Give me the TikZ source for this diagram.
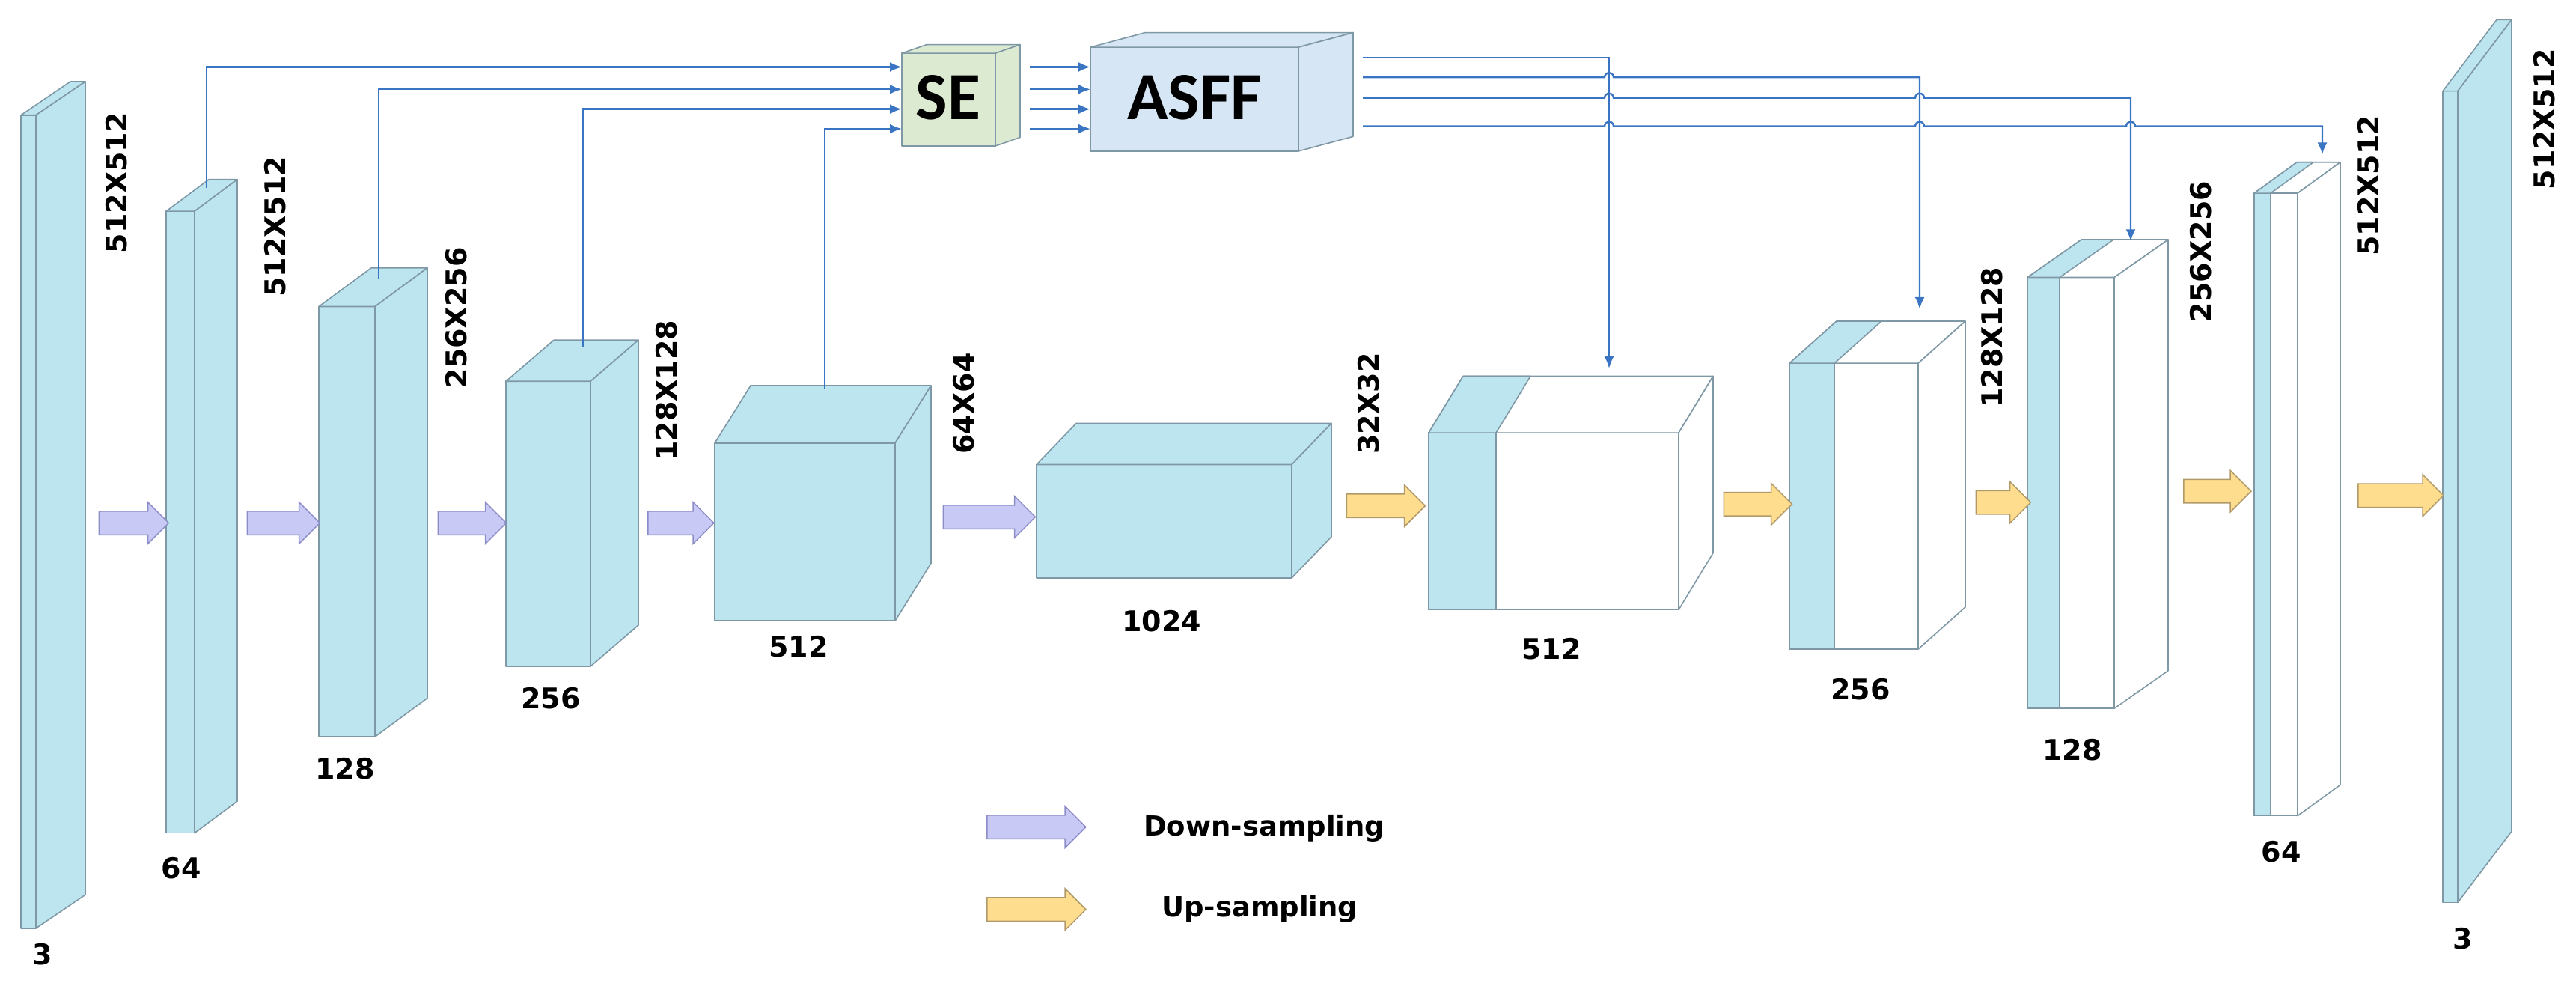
\documentclass[tikz,border=0pt]{standalone}
\usepackage{fontspec}
\setmainfont{DejaVu Sans}
\newfontfamily\calib{Carlito}
\usetikzlibrary{shapes.arrows,arrows.meta}
\definecolor{cblue}{HTML}{BDE5EF}
\definecolor{cedge}{HTML}{7F98A6}
\definecolor{segreen}{HTML}{DCEAD2}
\definecolor{asffb}{HTML}{D6E6F4}
\definecolor{conn}{HTML}{3A75C4}
\definecolor{downf}{HTML}{C9C9F5}
\definecolor{downd}{HTML}{8C8CC8}
\definecolor{upf}{HTML}{FFDD8E}
\definecolor{upd}{HTML}{B09A6A}
\tikzset{
  face/.style={draw=cedge,line width=1.6pt,line join=round},
  lbl/.style={font=\bfseries\fontsize{38}{38}\selectfont,inner sep=0pt},
  dim/.style={lbl,rotate=90},
  conn/.style={draw=conn,line width=2.4pt},
  cta/.style={conn,-{Latex[length=16pt,width=13pt]}},
  barrow/.style={single arrow,inner xsep=0pt,inner ysep=15pt,single arrow head extend=12pt,line width=1.5pt},
  down/.style={barrow,fill=downf,draw=downd},
  up/.style={barrow,fill=upf,draw=upd},
}
% name, x1, y1, x2, y2, dx, dy, colour
\newcommand\mycube[8]{%
  \pgfmathsetmacro\cw{#4-#2}\pgfmathsetmacro\ch{(#5-#3)*1.147}%
  \node[face,fill=#8,minimum width=\cw pt,minimum height=\ch pt,inner sep=0pt,outer sep=0pt,anchor=north west] (#1) at (#2,#3) {};
  \draw[face,fill=#8] (#2,#3) -- ({#2+#6},{#3+#7}) -- ({#4+#6},{#3+#7}) -- (#4,#3) -- cycle;
  \draw[face,fill=#8] (#4,#3) -- ({#4+#6},{#3+#7}) -- ({#4+#6},{#5+#7}) -- (#4,#5) -- cycle;
}
% split cube: #8 = x where blue part ends
\newcommand\mysplit[8]{%
  \mycube{#1}{#2}{#3}{#4}{#5}{#6}{#7}{white}
  \draw[face,fill=cblue] (#2,#3) rectangle (#8,#5);
  \draw[face,fill=cblue] (#2,#3) -- ({#2+#6},{#3+#7}) -- ({#8+#6},{#3+#7}) -- (#8,#3) -- cycle;
}
\begin{document}
\begin{tikzpicture}[x=1pt,y=-1.147pt]
\useasboundingbox (0,0) rectangle (3442,1151);
% encoder
\mycube{b1}{28}{134}{48}{1081}{66}{-39}{cblue}
\mycube{b2}{222}{246}{260}{970}{57}{-37}{cblue}
\mycube{b3}{426}{357}{501}{858}{70}{-45}{cblue}
\mycube{b4}{676}{444}{789}{776}{64}{-48}{cblue}
\mycube{b5}{955}{516}{1196}{723}{48}{-67}{cblue}
\mycube{b6}{1385}{541}{1726}{673}{53}{-48}{cblue}
% decoder
\mysplit{b7}{1909}{504}{2243}{710}{46}{-66}{1999}
\mysplit{b8}{2391}{423}{2563}{756}{63}{-49}{2451}
\mysplit{b9}{2709}{323}{2825}{825}{72}{-44}{2752}
\mysplit{b10}{3012}{225}{3070}{950}{57}{-36}{3034}
\draw[face] (3034,225) rectangle (3070,950);
\mycube{b11}{3264}{106}{3284}{1051}{72}{-83}{cblue}
% SE and ASFF
\mycube{se}{1205}{62}{1330}{170}{33}{-10}{segreen}
\mycube{asff}{1457}{55}{1735}{176}{73}{-17}{asffb}
\node[font=\calib\bfseries\fontsize{90}{90}\selectfont] at (1267,114) {SE};
\node[font=\calib\bfseries\fontsize{90}{90}\selectfont] at (1596,114) {ASFF};
% labels
\node[lbl] at (57,1111) {3};
\node[lbl] at (242,1011) {64};
\node[lbl] at (461,895) {128};
\node[lbl] at (736,813) {256};
\node[lbl] at (1067,753) {512};
\node[lbl] at (1552,723) {1024};
\node[lbl] at (2073,756) {512};
\node[lbl] at (2486,803) {256};
\node[lbl] at (2769,873) {128};
\node[lbl] at (3048,992) {64};
\node[lbl] at (3291,1093) {3};
\node[dim] at (156,213) {512X512};
\node[dim] at (368,264) {512X512};
\node[dim] at (610,370) {256X256};
\node[dim] at (891,455) {128X128};
\node[dim] at (1288,470) {64X64};
\node[dim] at (1829,470) {32X32};
\node[dim] at (2662,393) {128X128};
\node[dim] at (2941,293) {256X256};
\node[dim] at (3165,216) {512X512};
\node[dim] at (3400,139) {512X512};
% block arrows
\node[down,minimum height=93pt] (d1) at (171,609) {};
\node[down,minimum height=97pt] (d2) at (371,609) {};
\node[down,minimum height=91pt] (d3) at (623,609) {};
\node[down,minimum height=88pt] (d4) at (902,609) {};
\node[down,minimum height=123pt] (d5) at (1314,602) {};
\node[up,minimum height=105pt] (u1) at (1844,589) {};
\node[up,minimum height=91pt] (u2) at (2341,587) {};
\node[up,minimum height=73pt] (u3) at (2669,585) {};
\node[up,minimum height=90pt] (u4) at (2955,572) {};
\node[up,minimum height=114pt] (u5) at (3200,577) {};
% legend
\node[down,minimum height=132pt] (ld) at (1377,963) {};
\node[up,minimum height=132pt] (lu) at (1377,1059) {};
\node[lbl,font=\bfseries\fontsize{37}{37}\selectfont,anchor=west] (ldt) at (1528,965) {Down-sampling};
\node[lbl,font=\bfseries\fontsize{37}{37}\selectfont,anchor=west] (lut) at (1552,1059) {Up-sampling};
% skip coordinates
\coordinate (s2) at (276,219);
\coordinate (s3) at (506,325);
\coordinate (s4) at (779,404);
\coordinate (s5) at (1102,453);
\coordinate (se1) at (1205,78);
\coordinate (se2) at (1205,104);
\coordinate (se3) at (1205,127);
\coordinate (se4) at (1205,150);
\draw[cta] (s2) |- (se1);
\draw[cta] (s3) |- (se2);
\draw[cta] (s4) |- (se3);
\draw[cta] (s5) |- (se4);
\foreach \y in {78,104,127,150}{
  \draw[cta] (1376,\y) -- (1457,\y);
}
% outputs from ASFF
\coordinate (o1) at (1821,67);
\coordinate (o2) at (1821,90);
\coordinate (o3) at (1821,114);
\coordinate (o4) at (1821,147);
\coordinate (t7) at (2150,429);
\coordinate (t8) at (2565,360);
\coordinate (t9) at (2847,281);
\coordinate (t10) at (3103,180);
\def\hp{arc[start angle=180,end angle=0,radius=6pt]}
\draw[cta] (o1) -| (t7);
\draw[cta] (o2) -- (2144,90) \hp -- (2565,90) -- (t8);
\draw[cta] (o3) -- (2144,114) \hp -- (2559,114) \hp -- (2847,114) -- (t9);
\draw[cta] (o4) -- (2144,147) \hp -- (2559,147) \hp -- (2841,147) \hp -- (3103,147) -- (t10);
\end{tikzpicture}
\end{document}
